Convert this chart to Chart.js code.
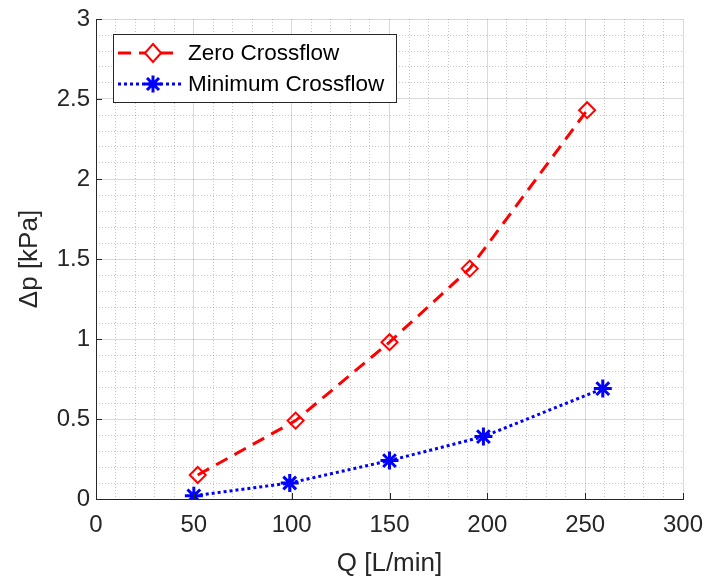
<!DOCTYPE html>
<html>
<head>
<meta charset="utf-8">
<script src="https://cdn.jsdelivr.net/npm/chart.js@4/dist/chart.umd.min.js"></script>
<style>
html,body{margin:0;padding:0;background:#fff;}
#wrap{width:705px;height:579px;}
</style>
</head>
<body>
<div id="wrap"><canvas id="c" width="705" height="579"></canvas></div>
<script>
const seriesNames = ['Zero Crossflow', 'Minimum Crossflow'];
const qZero = [52, 102, 150, 191, 251];
const dpZero = [0.15, 0.49, 0.98, 1.44, 2.43];
const qMin = [50, 99, 150, 198, 259];
const dpMin = [0.02, 0.10, 0.24, 0.39, 0.69];
const xTitle = 'Q [L/min]';
const yTitle = 'Δp [kPa]';

const FONT = '"Liberation Sans", Arial, Helvetica, sans-serif';
const AX = '#262626';

function pts(xs, ys){ return xs.map((x,i)=>({x:x, y:ys[i]})); }

function drawDiamond(ctx, x, y, r){
  ctx.beginPath();
  ctx.moveTo(x, y-r); ctx.lineTo(x+r*0.9, y); ctx.lineTo(x, y+r); ctx.lineTo(x-r*0.9, y); ctx.closePath();
  ctx.stroke();
}
function drawStar(ctx, x, y, r){
  ctx.beginPath();
  for (let k=0;k<4;k++){
    const a = k*Math.PI/4;
    ctx.moveTo(x - r*Math.cos(a), y - r*Math.sin(a));
    ctx.lineTo(x + r*Math.cos(a), y + r*Math.sin(a));
  }
  ctx.stroke();
}

const overlay = {
  id: 'overlay',
  afterDraw(chart){
    const ctx = chart.ctx;
    const xs = chart.scales.x, ys = chart.scales.y;
    const ca = chart.chartArea;
    ctx.save();
    // inward ticks
    ctx.strokeStyle = AX; ctx.lineWidth = 1; ctx.setLineDash([]);
    xs.ticks.forEach(t=>{
      const px = Math.round(xs.getPixelForValue(t.value))+0.5;
      ctx.beginPath(); ctx.moveTo(px, ca.bottom); ctx.lineTo(px, ca.bottom-6); ctx.stroke();
    });
    ys.ticks.forEach(t=>{
      const py = Math.round(ys.getPixelForValue(t.value))+0.5;
      ctx.beginPath(); ctx.moveTo(ca.left, py); ctx.lineTo(ca.left+6, py); ctx.stroke();
    });
    // legend
    const bx = 113.5, by = 34.5, bw = 283, bh = 68;
    ctx.fillStyle = '#ffffff';
    ctx.fillRect(bx, by, bw, bh);
    ctx.strokeStyle = AX; ctx.lineWidth = 1;
    ctx.strokeRect(bx, by, bw, bh);
    const rows = [53, 84];
    const ds = chart.data.datasets;
    ctx.font = '22.5px ' + FONT;
    ctx.textBaseline = 'middle';
    ctx.textAlign = 'left';
    rows.forEach((ry, i)=>{
      const d = ds[i];
      ctx.strokeStyle = d.borderColor;
      ctx.lineWidth = d.borderWidth;
      ctx.setLineDash(d.borderDash);
      ctx.beginPath(); ctx.moveTo(118, ry); ctx.lineTo(181, ry); ctx.stroke();
      ctx.setLineDash([]);
      if (i === 0){
        ctx.fillStyle = '#ffffff';
        ctx.beginPath(); ctx.moveTo(153, ry-9); ctx.lineTo(161, ry); ctx.lineTo(153, ry+9); ctx.lineTo(145, ry); ctx.closePath(); ctx.fill();
        ctx.lineWidth = 2; drawDiamond(ctx, 153, ry, 9);
      } else {
        ctx.lineWidth = 3; drawStar(ctx, 153, ry, 8.5);
      }
      ctx.fillStyle = '#000000';
      ctx.fillText(seriesNames[i], 188, ry+1);
    });
    ctx.restore();
  }
};

new Chart(document.getElementById('c'), {
  type: 'line',
  data: {
    datasets: [
      {
        label: seriesNames[0],
        data: pts(qZero, dpZero),
        borderColor: '#ff0000',
        borderWidth: 3,
        borderDash: [13, 8],
        pointStyle: 'rectRot',
        pointRadius: 8,
        pointBorderWidth: 2,
        pointBorderColor: '#ff0000',
        pointBackgroundColor: 'rgba(0,0,0,0)',
        fill: false,
        tension: 0
      },
      {
        label: seriesNames[1],
        data: pts(qMin, dpMin),
        borderColor: '#0000ff',
        borderWidth: 3,
        borderDash: [3, 3],
        pointStyle: 'star',
        pointRadius: 9,
        pointBorderWidth: 3,
        pointBorderColor: '#0000ff',
        pointBackgroundColor: '#0000ff',
        fill: false,
        tension: 0
      }
    ]
  },
  options: {
    responsive: false,
    animation: false,
    layout: { padding: { top: 19, right: 22, left: 0, bottom: 0 } },
    plugins: { legend: { display: false }, tooltip: { enabled: false } },
    scales: {
      x2: {
        type: 'linear', position: 'bottom', min: 0, max: 300,
        ticks: { stepSize: 10, display: false },
        grid: { color: c => (c.tick && c.tick.value % 50 === 0) ? 'rgba(0,0,0,0)' : 'rgba(0,0,0,0.22)', lineWidth: 1, drawTicks: false },
        border: { display: false, dash: [1, 2] },
        afterFit: s => { s.height = 0; s.paddingLeft = 0; s.paddingRight = 0; }
      },
      y2: {
        type: 'linear', position: 'left', min: 0, max: 3,
        ticks: { stepSize: 0.1, display: false },
        grid: { color: c => (c.tick && Math.abs(c.tick.value*10 - Math.round(c.tick.value*2)*5) < 1e-6) ? 'rgba(0,0,0,0)' : 'rgba(0,0,0,0.22)', lineWidth: 1, drawTicks: false },
        border: { display: false, dash: [1, 2] },
        afterFit: s => { s.width = 0; s.paddingTop = 0; s.paddingBottom = 0; }
      },
      x: {
        type: 'linear', position: 'bottom', min: 0, max: 300,
        ticks: { stepSize: 50, color: AX, font: { family: FONT, size: 24 }, padding: 12, maxRotation: 0 },
        grid: { color: 'rgba(0,0,0,0.15)', lineWidth: 1, drawTicks: false },
        border: { display: true, color: AX, width: 1 },
        title: { display: true, text: xTitle, color: AX, font: { family: FONT, size: 26, lineHeight: 1 }, padding: { top: 0, bottom: 2 } },
        afterFit: s => { s.height = 80; s.paddingLeft = 0; s.paddingRight = 0; }
      },
      y: {
        type: 'linear', position: 'left', min: 0, max: 3,
        ticks: { stepSize: 0.5, color: AX, font: { family: FONT, size: 24 }, padding: 6, callback: v => String(v) },
        grid: { color: 'rgba(0,0,0,0.15)', lineWidth: 1, drawTicks: false },
        border: { display: true, color: AX, width: 1 },
        title: { display: true, text: yTitle, color: AX, font: { family: FONT, size: 26, lineHeight: 1 }, padding: { top: 17, bottom: 0 } },
        afterFit: s => { s.width = 96; s.paddingTop = 0; s.paddingBottom = 0; }
      }
    }
  },
  plugins: [overlay]
});
</script>
</body>
</html>
